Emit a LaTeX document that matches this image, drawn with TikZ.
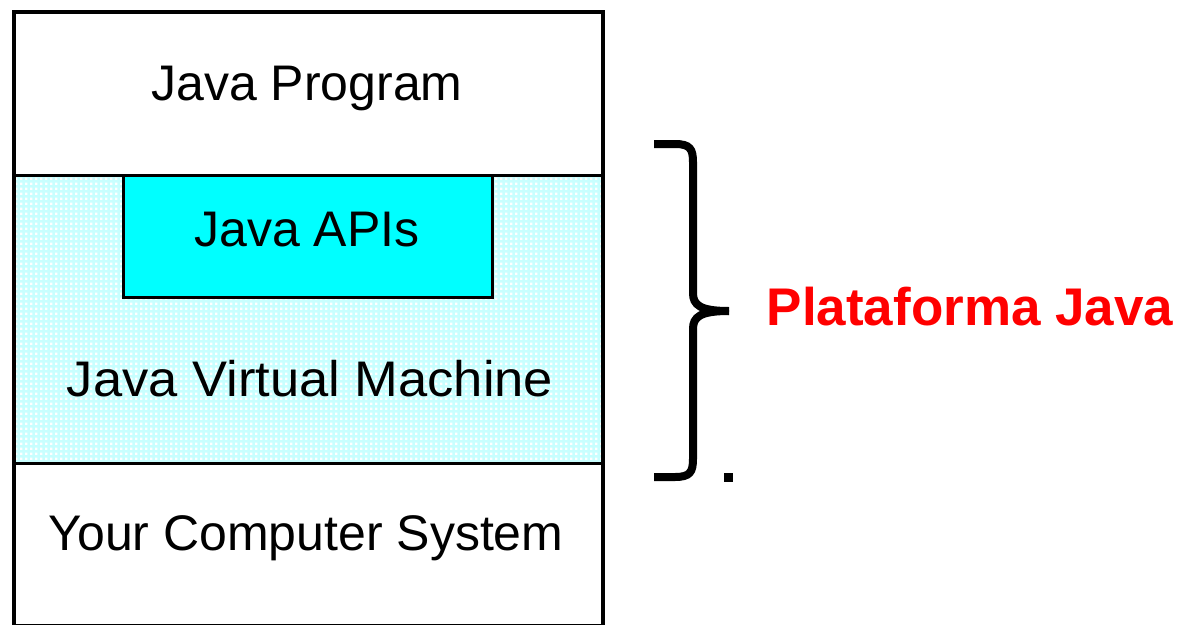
\documentclass[tikz,border=0pt]{standalone}
\usepackage{fontspec}
\setmainfont{Liberation Sans}
\usetikzlibrary{patterns.meta}
\definecolor{jvmbg}{RGB}{200,255,255}
\definecolor{apicyan}{RGB}{0,255,255}
\definecolor{plred}{RGB}{255,0,0}
\tikzdeclarepattern{name=wdots, type=uncolored,
  bounding box={(0pt,0pt) and (5.33pt,5.33pt)},
  tile size={(5.33pt,5.33pt)},
  code={\fill (0pt,0pt) rectangle (2.6pt,2.6pt);}}
\tikzset{
  lbl/.style={font=\fontsize{50}{50}\selectfont, anchor=base, inner sep=0pt, text=black},
  frame/.style={draw=black, line width=3.5pt},
  divider/.style={draw=black, line width=3pt},
  bracestyle/.style={draw=black, line width=8pt},
}
\begin{document}
\begin{tikzpicture}[x=1pt,y=-1pt]
\useasboundingbox (0,0) rectangle (1178,624);
\fill[white] (0,0) rectangle (1178,624);
% JVM layer background
\fill[jvmbg] (14,175) rectangle (603,463);
\fill[pattern=wdots, pattern color=white] (14,175) rectangle (603,463);
% Java APIs box
\node[draw=black, line width=3pt, fill=apicyan, minimum width=369pt, minimum height=122pt, inner sep=0pt] (apis) at (307.5,236) {};
% dividers
\draw[divider] (14,175) coordinate (d1l) -- (603,175) coordinate (d1r);
\draw[divider] (14,463) coordinate (d2l) -- (603,463) coordinate (d2r);
% outer frame
\draw[frame] (14,12) rectangle (603,626);
% labels
\node[lbl] (prog) at (307,100) {Java Program};
\node[lbl] (apitxt) at (307,246) {Java APIs};
\node[lbl, xscale=1.05] (jvm) at (310,396) {Java Virtual Machine};
\node[lbl] (sys) at (306,550) {Your Computer System};
% brace
\coordinate (btop) at (654,144);
\coordinate (bbot) at (654,477);
\coordinate (btip) at (729,311);
\draw[bracestyle] (btop) -- (675,144) .. controls (690,144) and (693,149) .. (693,162)
  -- (693,293) .. controls (693,305) and (700,311) .. (btip);
\draw[bracestyle] (btip) .. controls (700,311) and (693,317) .. (693,329)
  -- (693,459) .. controls (693,472) and (690,477) .. (675,477) -- (bbot);
% dot
\node[fill=black, minimum size=9pt, inner sep=0pt] (dot) at (728.5,477.5) {};
% platform label
\node[font=\fontsize{53}{53}\selectfont\bfseries, text=plred, anchor=base, inner sep=0pt] (plat) at (970,325) {Plataforma Java};
\end{tikzpicture}
\end{document}
